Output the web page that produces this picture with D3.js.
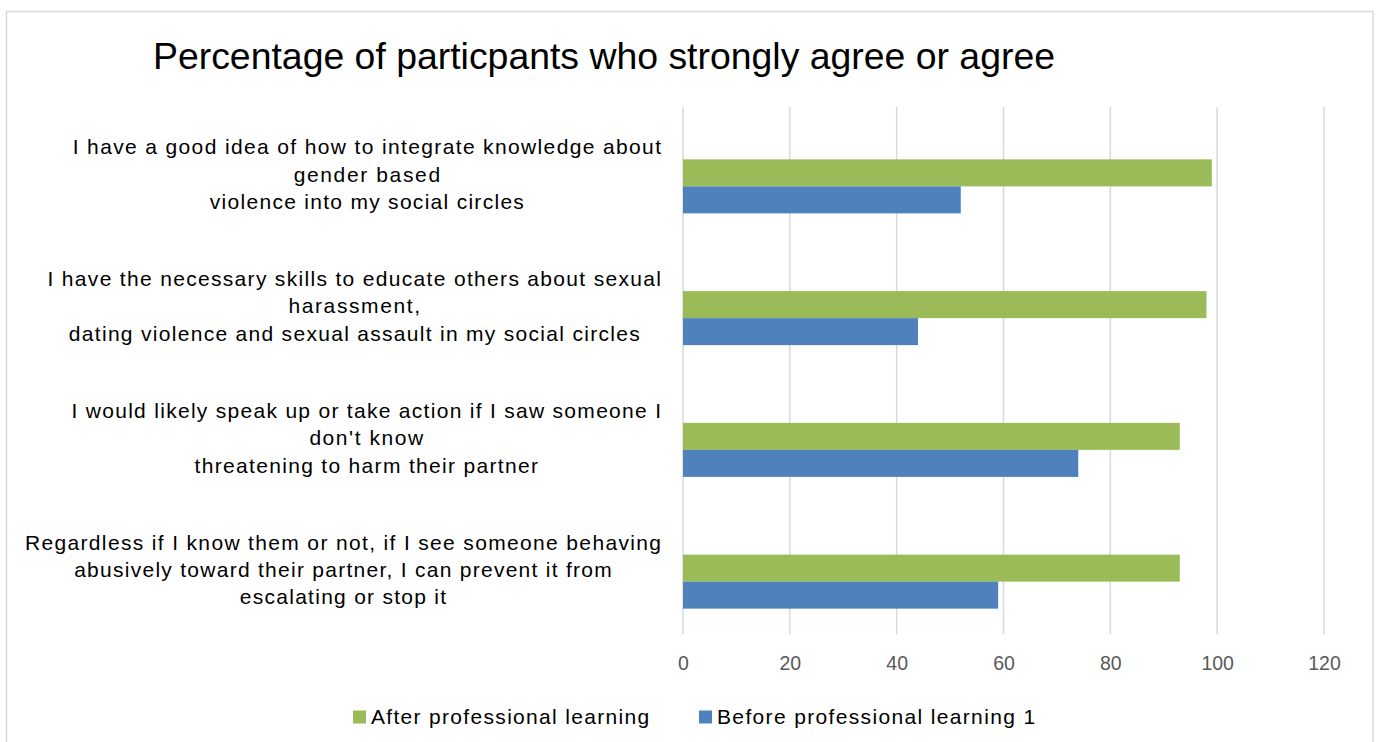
<!DOCTYPE html>
<html>
<head>
<meta charset="utf-8">
<script src="https://cdn.jsdelivr.net/npm/d3@7"></script>
<style>
  html, body { margin: 0; padding: 0; background: #fff; }
  svg { display: block; font-family: "Liberation Sans", Arial, sans-serif; }
</style>
</head>
<body>
<svg id="chart" width="1381" height="742"></svg>
<script>
// Survey statements (top to bottom), each split into its display lines
const categories = [
  "I have a good idea of how to integrate knowledge about gender based violence into my social circles",
  "I have the necessary skills to educate others about sexual harassment, dating violence and sexual assault in my social circles",
  "I would likely speak up or take action if I saw someone I don't know threatening to harm their partner",
  "Regardless if I know them or not, if I see someone behaving abusively toward their partner, I can prevent it from escalating or stop it"
];
const categoryLines = [
  ["I have a good idea of how to integrate knowledge about", "gender based", "violence into my social circles"],
  ["I have the necessary skills to educate others about sexual", "harassment,", "dating violence and sexual assault in my social circles"],
  ["I would likely speak up or take action if I saw someone I", "don't know", "threatening to harm their partner"],
  ["Regardless if I know them or not, if I see someone behaving", "abusively toward their partner, I can prevent it from", "escalating or stop it"]
];

const seriesNames = ["After professional learning", "Before professional learning 1"];
const afterValues  = [99, 98, 93, 93];
const beforeValues = [52, 44, 74, 59];
const seriesColors = ["#9bbb59", "#4f81bd"];

const xTicks = [0, 20, 40, 60, 80, 100, 120];
const titleText = "Percentage of particpants who strongly agree or agree";

const svg = d3.select("#chart");

// Loosely tracked text, as the workbook renders it
const textSpread = 1.14;
function spreadText(sel) {
  sel.each(function() {
    const w = this.getComputedTextLength();
    d3.select(this).attr("textLength", w * textSpread).attr("lengthAdjust", "spacing");
  });
}

// Chart frame
svg.append("rect")
  .attr("x", 6.5).attr("y", 11.5)
  .attr("width", 1366.5).attr("height", 760)
  .attr("fill", "#fff")
  .attr("stroke", "#d9d9d9").attr("stroke-width", 1.5);

// Title
svg.append("text")
  .attr("x", 153).attr("y", 69)
  .attr("font-size", 37)
  .attr("fill", "#000")
  .attr("textLength", 902)
  .attr("lengthAdjust", "spacingAndGlyphs")
  .text(titleText);

const plot = { left: 683, right: 1324, top: 107, bottom: 634 };

const x = d3.scaleLinear().domain([0, 120]).range([plot.left, plot.right]);

const y = d3.scaleBand()
  .domain(categories)
  .range([plot.top, plot.bottom])
  .paddingInner(0.385)
  .paddingOuter(0.1925);

// Three slots per group; the first slot stays empty, as in the source workbook
const slots = ["", ...seriesNames];
const ySub = d3.scaleBand().domain(slots).range([0, y.bandwidth()]);

// Vertical gridlines
svg.append("g")
  .selectAll("line")
  .data(xTicks)
  .join("line")
  .attr("x1", d => x(d)).attr("x2", d => x(d))
  .attr("y1", plot.top).attr("y2", plot.bottom)
  .attr("stroke", "#d9d9d9").attr("stroke-width", 1.5);

// X axis tick labels
const xAxis = d3.axisBottom(x).tickValues(xTicks).tickSize(0).tickPadding(0);
const xg = svg.append("g")
  .attr("transform", `translate(0, ${plot.bottom + 22})`)
  .call(xAxis);
xg.select(".domain").remove();
xg.selectAll("text")
  .attr("font-family", "Liberation Sans, Arial, sans-serif")
  .attr("font-size", 19.5)
  .attr("fill", "#595959")
  .attr("dy", "0.71em");

// Bars
const rows = categories.map((c, i) => ({ cat: c, values: [afterValues[i], beforeValues[i]] }));
const groups = svg.append("g").selectAll("g")
  .data(rows)
  .join("g")
  .attr("transform", d => `translate(0, ${y(d.cat)})`);

groups.selectAll("rect")
  .data(d => d.values.map((v, k) => ({ name: seriesNames[k], value: v, color: seriesColors[k] })))
  .join("rect")
  .attr("x", x(0))
  .attr("y", d => ySub(d.name))
  .attr("width", d => x(d.value) - x(0))
  .attr("height", ySub.bandwidth())
  .attr("fill", d => d.color);

// Category labels: each block centred on its widest line, right edge at the axis
const labelFont = 21;
const lineGap = 27.3;
const labelRight = 661;
const labelGroups = svg.append("g").selectAll("g")
  .data(categories)
  .join("g");

labelGroups.each(function(cat, i) {
  const g = d3.select(this);
  const lines = categoryLines[i];
  const cy = y(cat) + y.bandwidth() / 2 + 1.5;
  const texts = g.selectAll("text")
    .data(lines)
    .join("text")
    .attr("font-size", labelFont)
    .attr("fill", "#000")
    .attr("text-anchor", "middle")
    .attr("y", (d, j) => cy + (j - (lines.length - 1) / 2) * lineGap)
    .attr("dy", "0.35em")
    .text(d => d);
  spreadText(texts);
  let maxW = 0;
  texts.each(function() { maxW = Math.max(maxW, +this.getAttribute("textLength")); });
  texts.attr("x", labelRight - maxW / 2);
});

// Legend
const legendItems = [
  { name: seriesNames[0], color: seriesColors[0], x: 353 },
  { name: seriesNames[1], color: seriesColors[1], x: 699 }
];
const legendY = 717;
const lg = svg.append("g").selectAll("g")
  .data(legendItems)
  .join("g")
  .attr("transform", d => `translate(${d.x}, ${legendY})`);
lg.append("rect")
  .attr("x", 0).attr("y", -6.5)
  .attr("width", 13).attr("height", 13)
  .attr("fill", d => d.color);
lg.append("text")
  .attr("x", 18).attr("dy", "0.35em")
  .attr("font-size", 21)
  .attr("fill", "#000")
  .text(d => d.name)
  .call(spreadText);
</script>
</body>
</html>
